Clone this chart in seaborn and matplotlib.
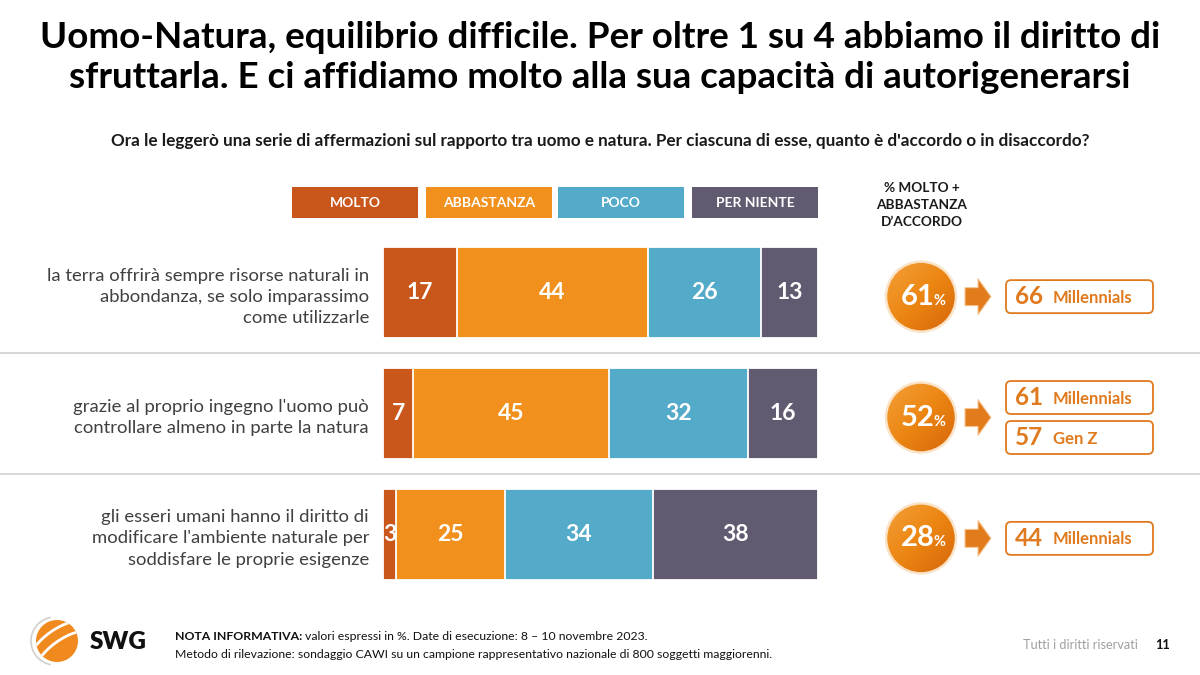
import numpy as np
import pandas as pd
import matplotlib
matplotlib.use("Agg")
import matplotlib.pyplot as plt
import seaborn as sns
from matplotlib.patches import Rectangle, Circle, FancyBboxPatch, Polygon, Arc

# data
statements = [
    "la terra offrirà sempre risorse naturali in\nabbondanza, se solo imparassimo\ncome utilizzarle",
    "grazie al proprio ingegno l'uomo può\ncontrollare almeno in parte la natura",
    "gli esseri umani hanno il diritto di\nmodificare l'ambiente naturale per\nsoddisfare le proprie esigenze",
]
categories = ["MOLTO", "ABBASTANZA", "POCO", "PER NIENTE"]
molto = [17, 7, 3]
abbastanza = [44, 45, 25]
poco = [26, 32, 34]
per_niente = [13, 16, 38]
agree_total = [61, 52, 28]
segment_values = [[66], [61, 57], [44]]
segment_names = [["Millennials"], ["Millennials", "Gen Z"], ["Millennials"]]

colors = ["#C9561A", "#F1901C", "#53ABC9", "#625A70"]
ORANGE = "#E07A1E"

sns.set_theme(style="white")
plt.rcParams["font.family"] = ["Lato", "DejaVu Sans"]

W, H = 1200, 675
fig = plt.figure(figsize=(12, 6.75), dpi=100)
fig.patch.set_facecolor("white")

# bar axes in pixel layout
bx0, bx1, by0, by1 = 383, 818, 247, 580
ax = fig.add_axes([bx0 / W, 1 - by1 / H, (bx1 - bx0) / W, (by1 - by0) / H])

keys = ["r1", "r2", "r3"]
series = [molto, abbastanza, poco, per_niente]
cum = np.cumsum(np.array(series), axis=0)
bar_h = 0.755
for k in range(3, -1, -1):
    df = pd.DataFrame({"row": keys, "val": cum[k]})
    sns.barplot(data=df, x="val", y="row", orient="h", color=colors[k],
                width=bar_h, edgecolor="white", linewidth=1.3, ax=ax,
                saturation=1)

half = (2 + bar_h) / 2
ax.set_ylim(1 + half, 1 - half)
ax.set_xlim(0, 100)
ax.set_xlabel("")
ax.set_ylabel("")
ax.set_xticks([])
ax.set_yticks(range(3))
ax.set_yticklabels(statements, fontsize=13.3, color="#404040")
for lab in ax.get_yticklabels():
    lab.set_linespacing(1.4)
ax.tick_params(axis="y", length=0, pad=10)
sns.despine(ax=ax, left=True, bottom=True)

for i in range(3):
    start = 0
    for k, s in enumerate(series):
        v = s[i]
        ax.text(start + v / 2, i, str(v), ha="center", va="center",
                color="white", fontsize=16.5, fontweight="bold")
        start += v

# overlay in pixel coordinates
ov = fig.add_axes([0, 0, 1, 1], zorder=5)
ov.set_xlim(0, W)
ov.set_ylim(H, 0)
ov.axis("off")
ov.patch.set_alpha(0)


def row_y(i):
    return H - ax.transData.transform((0, i))[1]


# title & subtitle
ov.text(600, 38, "Uomo-Natura, equilibrio difficile. Per oltre 1 su 4 abbiamo il diritto di",
        ha="center", va="center", fontsize=26.5, fontweight="bold", color="black")
ov.text(600, 78, "sfruttarla. E ci affidiamo molto alla sua capacità di autorigenerarsi",
        ha="center", va="center", fontsize=26.5, fontweight="bold", color="black")
ov.text(600, 141, "Ora le leggerò una serie di affermazioni sul rapporto tra uomo e natura. "
        "Per ciascuna di esse, quanto è d'accordo o in disaccordo?",
        ha="center", va="center", fontsize=12.3, fontweight="bold", color="#1a1a1a")

# legend boxes
leg_x = [292, 426, 558, 692]
for x, c, name in zip(leg_x, colors, categories):
    ov.add_patch(Rectangle((x, 187), 126, 31, facecolor=c, edgecolor="none"))
    ov.text(x + 63, 203, name, ha="center", va="center", color="white",
            fontsize=10, fontweight="bold")

ov.text(922, 205, "% MOLTO +\nABBASTANZA\nD\u2019ACCORDO", ha="center", va="center",
        fontsize=9.8, fontweight="bold", color="#1a1a1a", linespacing=1.45)

# separators
for i in range(2):
    ys = (row_y(i) + row_y(i + 1)) / 2
    ov.plot([0, W], [ys, ys], color="#D3D3D3", lw=1.3)

# right panel: circles, arrows, boxes
grad = np.linspace(0, 1, 100)
gx, gy = np.meshgrid(grad, grad)
gimg = (gx + gy) / 2
cmap = matplotlib.colors.LinearSegmentedColormap.from_list("o", ["#F4A03A", "#EC8612", "#D5650A"])
cx, r = 921, 35
for i in range(3):
    cy = row_y(i) + 4
    circ = Circle((cx, cy), r, facecolor="none", edgecolor="#FBE3C8", lw=1.8, zorder=3)
    ov.add_patch(circ)
    im = ov.imshow(gimg, cmap=cmap, extent=[cx - r, cx + r, cy + r, cy - r], zorder=2)
    im.set_clip_path(circ)
    ov.text(cx + 14, cy, str(agree_total[i]), ha="right", va="center", color="white",
            fontsize=21, fontweight="bold", zorder=4)
    ov.text(cx + 13, cy + 4, "%", ha="left", va="center", color="white",
            fontsize=10.5, fontweight="bold", zorder=4)

    ay = row_y(i) + 4
    arrow = Polygon([[965, ay - 9], [978, ay - 9], [978, ay - 18], [991, ay],
                     [978, ay + 18], [978, ay + 9], [965, ay + 9]],
                    closed=True, facecolor="#E27B1B", edgecolor="#F6C595", lw=0.8)
    ov.add_patch(arrow)

    vals = segment_values[i]
    n = len(vals)
    for j, (v, name) in enumerate(zip(vals, segment_names[i])):
        if n == 1:
            ty = row_y(i) + 4
        else:
            ty = row_y(i) + 4 + (j - 0.5) * 40
        box = FancyBboxPatch((1006, ty - 16.5), 147, 33,
                             boxstyle="round,pad=0,rounding_size=5",
                             facecolor="white", edgecolor=ORANGE, lw=1.3)
        ov.add_patch(box)
        ov.text(1015, ty, str(v), ha="left", va="center", color=ORANGE,
                fontsize=17.5, fontweight="bold")
        ov.text(1053, ty + 1, name, ha="left", va="center", color=ORANGE,
                fontsize=12, fontweight="bold")

# logo
lc = Circle((57, 641), 21, facecolor="#F08A1E", edgecolor="none")
ov.add_patch(lc)
for k, off in enumerate([-10, 0, 10]):
    a = Arc((57 + off * 0.6, 641 + off), 60, 22, angle=-35, theta1=180, theta2=360,
            color="white", lw=2)
    ov.add_patch(a)
    a.set_clip_path(lc)
ov.add_patch(Arc((55, 641), 48, 48, angle=0, theta1=100, theta2=260, color="#D0D0D0", lw=1.2))
ov.text(90, 642, "SWG", ha="left", va="center", fontsize=17.5, fontweight="heavy", color="#111111")

# footer
t1 = ov.text(175, 636, "NOTA INFORMATIVA:", ha="left", va="center", fontsize=8.8,
             fontweight="bold", color="#111111")
fig.canvas.draw()
bb = t1.get_window_extent()
ov.text(175 + bb.width + 3, 636, "valori espressi in %. Date di esecuzione: 8 \u2013 10 novembre 2023.",
        ha="left", va="center", fontsize=8.8, color="#111111")
ov.text(175, 655, "Metodo di rilevazione: sondaggio CAWI su un campione rappresentativo nazionale "
        "di 800 soggetti maggiorenni.", ha="left", va="center", fontsize=8.8, color="#111111")
ov.text(1138, 645, "Tutti i diritti riservati", ha="right", va="center", fontsize=9.2, color="#A0A0A0")
ov.text(1155, 645, "11", ha="left", va="center", fontsize=9.2, fontweight="bold", color="#111111")

fig.savefig("out.png", dpi=100, facecolor="white")
